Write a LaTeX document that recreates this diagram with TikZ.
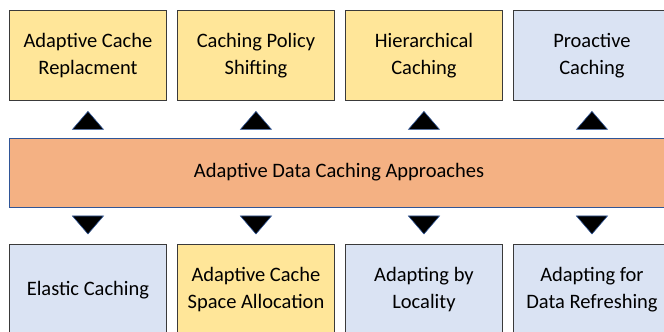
\documentclass[tikz,border=0pt]{standalone}
\usepackage{fontspec}
\setmainfont{Carlito}
\definecolor{boxyellow}{HTML}{FFE699}
\definecolor{boxblue}{HTML}{DAE3F3}
\definecolor{barorange}{HTML}{F4B183}
\definecolor{edgegray}{HTML}{3A3A3A}
\definecolor{edgeblue}{HTML}{2F5597}
\begin{document}
\begin{tikzpicture}[x=1pt,y=1pt,
  item/.style={draw=edgegray, line width=0.9pt, minimum width=157pt, minimum height=90.5pt,
    inner sep=0pt, align=center, font=\fontsize{20.5}{27}\selectfont, anchor=north west},
  yel/.style={item, fill=boxyellow},
  blu/.style={item, fill=boxblue},
  bar/.style={draw=edgeblue, line width=0.9pt, fill=barorange, minimum width=662pt, minimum height=69pt,
    inner sep=0pt, anchor=north west, font=\fontsize{20.5}{27}\selectfont},
  tri/.style={fill=black, draw=edgeblue, line width=0.6pt, line join=miter}]
\useasboundingbox (0,0) rectangle (664,332);
\clip (0,0) rectangle (664,332);
% top row
\node[yel] (t1) at (9,322) {Adaptive Cache\\Replacment};
\node[yel] (t2) at (177,322) {Caching Policy\\Shifting};
\node[yel] (t3) at (345,322) {Hierarchical\\Caching};
\node[blu] (t4) at (513,322) {Proactive\\Caching};
% middle bar
\node[bar] (mid) at (9,194) {};
\node (midtext) at (339,159.5) {\fontsize{20.5}{27}\selectfont Adaptive Data Caching Approaches};
% bottom row
\node[blu] (b1) at (9,88) {Elastic Caching};
\node[yel] (b2) at (177,88) {Adaptive Cache\\Space Allocation};
\node[blu] (b3) at (345,88) {Adapting by\\Locality};
\node[blu] (b4) at (513,88) {Adapting for\\Data Refreshing};
% up triangles
\foreach \n in {t1,t2,t3,t4}{
  \coordinate (u\n) at ([yshift=-18pt]\n.south);
  \draw[tri] ([xshift=-15.5pt,yshift=-10pt]u\n) -- ([yshift=8pt]u\n) -- ([xshift=15.5pt,yshift=-10pt]u\n) -- cycle;
}
% down triangles
\foreach \n in {b1,b2,b3,b4}{
  \coordinate (d\n) at ([yshift=18pt]\n.north);
  \draw[tri] ([xshift=-15.5pt,yshift=10pt]d\n) -- ([yshift=-8pt]d\n) -- ([xshift=15.5pt,yshift=10pt]d\n) -- cycle;
}
\end{tikzpicture}
\end{document}
